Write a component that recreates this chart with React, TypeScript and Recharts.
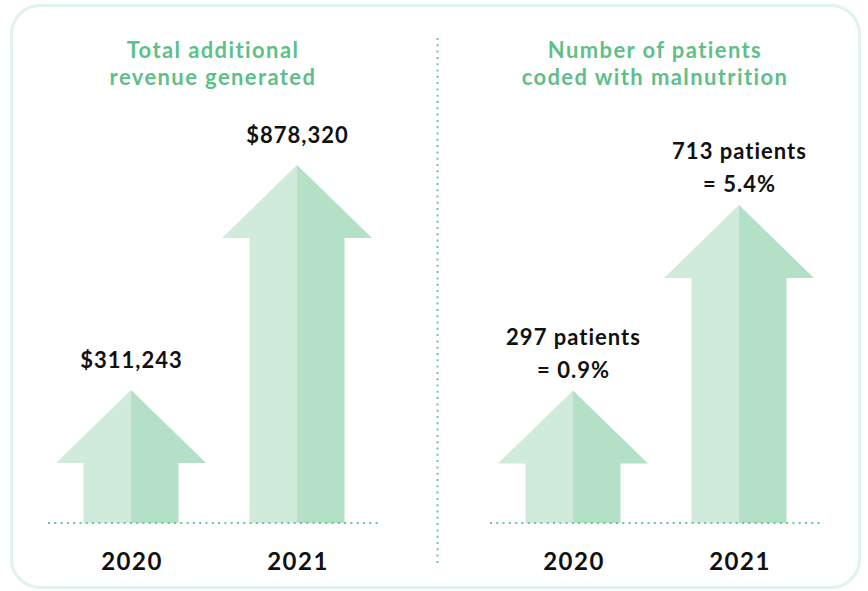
import React from 'react';
import { BarChart, Bar, XAxis, YAxis, LabelList } from 'recharts';

const years = ['2020', '2021'];
const revenue = [311243, 878320];
const revenueLabels = ['$311,243', '$878,320'];
const patients = [297, 713];
const patientShare = ['0.9%', '5.4%'];

const revenueData = years.map((year, i) => ({ year, value: revenue[i], label: revenueLabels[i] }));
const patientData = years.map((year, i) => ({
  year,
  value: patients[i],
  label: `${patients[i]} patients`,
  share: `= ${patientShare[i]}`,
}));

const FONT = 'Lato, "Open Sans", sans-serif';
const GREEN = '#5fbf88';
const LIGHT = '#d0ebdc';
const DARK = '#b3e0c6';
const DOTS = '#6cc597';
const HEAD = 73;
const STEM = 95;

const ArrowShape = (props: any) => {
  const { x, y, width, height, background } = props;
  const bottom = background ? background.y + background.height : y + height;
  const cx = x + width / 2;
  const s = STEM / 2;
  const left = `${cx},${y} ${x},${y + HEAD} ${cx - s},${y + HEAD} ${cx - s},${bottom} ${cx},${bottom}`;
  const right = `${cx},${y} ${x + width},${y + HEAD} ${cx + s},${y + HEAD} ${cx + s},${bottom} ${cx},${bottom}`;
  return (
    <g>
      <polygon points={left} fill={LIGHT} />
      <polygon points={right} fill={DARK} />
    </g>
  );
};

const YearTick = (props: any) => {
  const { x, y, payload } = props;
  return (
    <text x={x + 1} y={y + 45} textAnchor="middle" fontFamily={FONT} fontWeight={700} fontSize={24} letterSpacing={1.5} fill="#111">
      {payload.value}
    </text>
  );
};

const dottedAxis = { stroke: DOTS, strokeWidth: 2, strokeDasharray: '2 4.3' };

const RevenueLabel = (props: any) => {
  const { x, y, width, index } = props;
  return (
    <text x={x + width / 2 + 0.5} y={y - 22} textAnchor="middle" fontFamily={FONT} fontWeight={700} fontSize={22} letterSpacing={1} fill="#111">
      {revenueData[index].label}
    </text>
  );
};

const PatientLabel = (props: any) => {
  const { x, y, width, index } = props;
  const cx = x + width / 2 + 0.5;
  return (
    <g fontFamily={FONT} fontWeight={700} fontSize={22} letterSpacing={1} fill="#111" textAnchor="middle">
      <text x={cx} y={y - 46}>{patientData[index].label}</text>
      <text x={cx} y={y - 13}>{patientData[index].share}</text>
    </g>
  );
};

const titleStyle: React.CSSProperties = {
  position: 'absolute',
  textAlign: 'center',
  fontFamily: FONT,
  fontWeight: 700,
  fontSize: 22,
  letterSpacing: 1.4,
  lineHeight: '24px',
  height: 24,
  whiteSpace: 'nowrap',
  color: GREEN,
  width: 340,
};

const Title = ({ lines, center }: { lines: string[]; center: number }) => (
  <>
    {lines.map((line, i) => (
      <div key={i} style={{ ...titleStyle, left: center - 170, top: 37.5 + i * 27 }}>{line}</div>
    ))}
  </>
);

export default function App() {
  return (
    <div style={{ position: 'absolute', left: 0, top: 0, width: 868, height: 591, background: '#fff', overflow: 'hidden' }}>
      <div
        style={{
          position: 'absolute', left: 10, top: 4, width: 845, height: 579,
          border: '3px solid #e1f4ea', borderRadius: 30,
        }}
      />
      <svg style={{ position: 'absolute', left: 0, top: 0 }} width={868} height={591}>
        <line x1={437.5} y1={38} x2={437.5} y2={566} stroke={DOTS} strokeWidth={2} strokeDasharray="2 4.3" />
      </svg>
      <Title lines={['Total additional', 'revenue generated']} center={213} />
      <Title lines={['Number of patients', 'coded with malnutrition']} center={655} />

      <div style={{ position: 'absolute', left: 0, top: 0 }}>
        <BarChart width={438} height={591} data={revenueData} margin={{ top: 165, right: 58, bottom: 28, left: 48 }}>
          <XAxis dataKey="year" axisLine={dottedAxis} tickLine={false} tickSize={0} tick={<YearTick />} height={40} />
          <YAxis hide domain={[-24000, 'dataMax']} />
          <Bar dataKey="value" barSize={150} shape={<ArrowShape />} isAnimationActive={false}>
            <LabelList dataKey="label" content={<RevenueLabel />} />
          </Bar>
        </BarChart>
      </div>

      <div style={{ position: 'absolute', left: 438, top: 0 }}>
        <BarChart width={430} height={591} data={patientData} margin={{ top: 205, right: 46, bottom: 28, left: 52 }}>
          <XAxis dataKey="year" axisLine={dottedAxis} tickLine={false} tickSize={0} tick={<YearTick />} height={40} />
          <YAxis hide domain={[0, 'dataMax']} />
          <Bar dataKey="value" barSize={150} shape={<ArrowShape />} isAnimationActive={false}>
            <LabelList dataKey="label" content={<PatientLabel />} />
          </Bar>
        </BarChart>
      </div>
    </div>
  );
}
